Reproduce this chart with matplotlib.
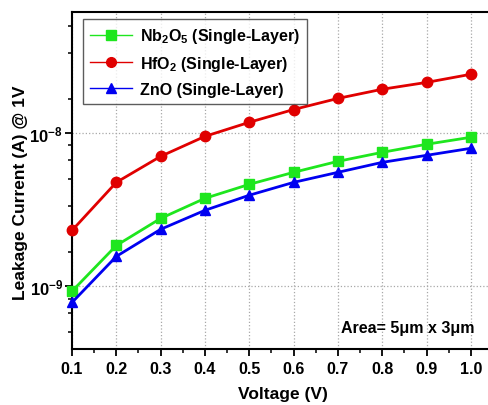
import numpy as np
import matplotlib
matplotlib.use('Agg')
import matplotlib.pyplot as plt
from matplotlib.ticker import LogLocator, FixedLocator, NullFormatter

plt.rcParams['font.family'] = ['Liberation Sans', 'DejaVu Sans']
plt.rcParams['font.weight'] = 'bold'
plt.rcParams['mathtext.fontset'] = 'custom'
plt.rcParams['mathtext.rm'] = 'Liberation Sans:bold'
plt.rcParams['mathtext.bf'] = 'Liberation Sans:bold'
plt.rcParams['mathtext.it'] = 'Liberation Sans:bold'
plt.rcParams['mathtext.default'] = 'rm'

# data
voltage = [0.1, 0.2, 0.3, 0.4, 0.5, 0.6, 0.7, 0.8, 0.9, 1.0]
nb2o5 = [9.3e-10, 1.85e-9, 2.78e-9, 3.76e-9, 4.64e-9, 5.56e-9, 6.56e-9, 7.51e-9, 8.48e-9, 9.42e-9]
hfo2 = [2.32e-9, 4.78e-9, 7.07e-9, 9.55e-9, 1.18e-8, 1.43e-8, 1.69e-8, 1.94e-8, 2.15e-8, 2.43e-8]
zno = [7.85e-10, 1.57e-9, 2.36e-9, 3.14e-9, 3.94e-9, 4.78e-9, 5.56e-9, 6.46e-9, 7.18e-9, 7.98e-9]

labels = ['Nb$_2$O$_5$ (Single-Layer)', 'HfO$_2$ (Single-Layer)', 'ZnO (Single-Layer)']
colors = ['#1ee61e', '#e00000', '#0000f0']
markers = ['s', 'o', '^']

fig = plt.figure(figsize=(4.89, 4.06), dpi=100)
ax = fig.add_axes([72 / 489, 1 - 350 / 406, 421 / 489, 337 / 406])

for y, lab, c, m in zip([nb2o5, hfo2, zno], labels, colors, markers):
    ax.plot(voltage, y, color=c, marker=m, markersize=7.5, lw=2, label=lab,
            clip_on=False, zorder=3)

ax.set_yscale('log')
ax.set_xlim(0.1, 1.05)
ax.set_ylim(3.9e-10, 6.2e-8)

xt = np.round(np.arange(0.1, 1.01, 0.1), 1)
ax.xaxis.set_major_locator(FixedLocator(xt))
ax.xaxis.set_minor_locator(FixedLocator(np.arange(0.15, 1.0, 0.1)))
ax.set_xticklabels([f'{v:.1f}' for v in xt])
ax.yaxis.set_major_locator(FixedLocator([1e-9, 1e-8]))
ax.set_yticklabels([r'$10^{-9}$', r'$10^{-8}$'])
ax.yaxis.set_minor_locator(LogLocator(base=10, subs=[10 / 6 * k for k in range(1, 6)]))
ax.yaxis.set_minor_formatter(NullFormatter())

ax.tick_params(axis='both', which='major', direction='out', length=5, width=1.3,
               labelsize=11.5)
ax.tick_params(axis='y', which='major', labelsize=12, pad=1.5)
ax.tick_params(axis='both', which='minor', direction='out', length=3, width=1.1)
for s in ['left', 'bottom', 'top']:
    ax.spines[s].set_linewidth(1.5)
ax.spines['right'].set_visible(False)

ax.grid(True, which='major', ls=':', color='#a8a8a8', lw=0.9)

ax.set_xlabel('Voltage (V)', fontsize=12.5, fontweight='bold', labelpad=7)
ax.set_ylabel('Leakage Current (A) @ 1V', fontsize=12.5, fontweight='bold')
ax.yaxis.set_label_coords(-0.105, 0.466)

leg = ax.legend(loc='upper left', bbox_to_anchor=(11 / 421, 1 - 7 / 337), fontsize=11.5,
                frameon=True, fancybox=False, edgecolor='#333333', handlelength=2.6,
                borderpad=0.45, labelspacing=0.55, handletextpad=0.5, borderaxespad=0)
leg.get_frame().set_linewidth(1.0)
for h in leg.legend_handles:
    h.set_linewidth(1.0)
    h.set_markersize(7)

ax.text(0.955, 0.065, 'Area= 5μm x 3μm', transform=ax.transAxes, ha='right', va='center',
        fontsize=11.5, fontweight='bold')

fig.savefig('out.png', dpi=100)
